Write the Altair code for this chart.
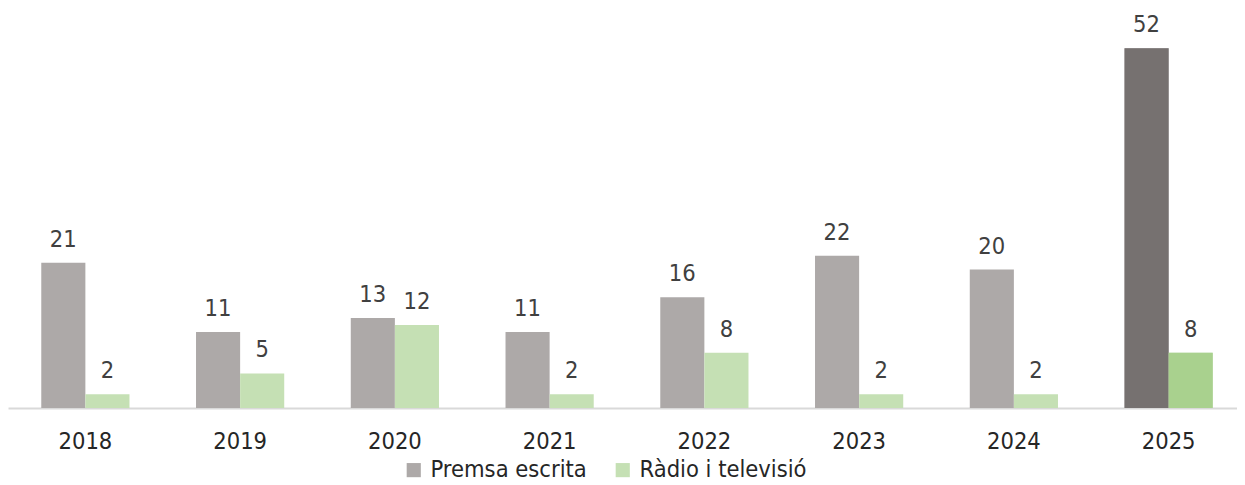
import altair as alt
import pandas as pd

years = ["2018", "2019", "2020", "2021", "2022", "2023", "2024", "2025"]
premsa = [21, 11, 13, 11, 16, 22, 20, 52]
radio = [2, 5, 12, 2, 8, 2, 2, 8]
series = ["Premsa escrita", "Ràdio i televisió"]
colors_normal = ["#ADA9A8", "#C5E0B4"]
colors_highlight = ["#767170", "#A9D18E"]
highlight_year = "2025"

rows = []
for i, y in enumerate(years):
    rows.append({"year": y, "series": series[0], "value": premsa[i]})
    rows.append({"year": y, "series": series[1], "value": radio[i]})
df = pd.DataFrame(rows)

FONT = "DejaVu Sans Condensed"
FS = 23.5

x = alt.X("year:N", sort=years, title=None,
          scale=alt.Scale(paddingInner=0.43, paddingOuter=0.215, range=[0, 1238]),
          axis=alt.Axis(labelAngle=0, ticks=False, domainColor="#D9D9D9", domainWidth=2,
                        labelFontSize=FS, labelFont=FONT, labelColor="#262626",
                        labelPadding=21, grid=False))
xo = alt.XOffset("series:N", sort=series)
y = alt.Y("value:Q", scale=alt.Scale(domain=[0, 57.8], nice=False), axis=None)

base = alt.Chart(df)

bars = base.mark_bar().encode(
    x=x, xOffset=xo, y=y,
    color=alt.Color("series:N", sort=series,
                    scale=alt.Scale(domain=series, range=colors_normal),
                    legend=alt.Legend(title=None, orient="none", direction="horizontal",
                                      legendX=394, legendY=450, symbolType="square",
                                      symbolSize=200, symbolStrokeWidth=0,
                                      labelFontSize=FS, labelFont=FONT, labelColor="#262626",
                                      labelLimit=400,
                                      columnPadding=24, symbolOffset=0, labelOffset=5)),
)

bars_hl = base.transform_filter(alt.datum.year == highlight_year).mark_bar().encode(
    x=x, xOffset=xo, y=y,
    color=alt.Color("series:N", sort=series,
                    scale=alt.Scale(domain=series, range=colors_highlight),
                    legend=None),
)

labels = base.mark_text(baseline="alphabetic", dy=-16, fontSize=FS, font=FONT,
                        color="#404040").encode(
    x=x, xOffset=xo, y=y, text=alt.Text("value:Q"),
)

chart = alt.layer(bars, bars_hl, labels).resolve_scale(color="independent").properties(
    width=1229, height=400,
    autosize=alt.AutoSizeParams(type="none"),
    padding={"left": 0, "top": 0, "right": 0, "bottom": 76},
).configure_view(stroke=None)

chart.save("out.html", embed_options={"renderer": "svg", "actions": False})
